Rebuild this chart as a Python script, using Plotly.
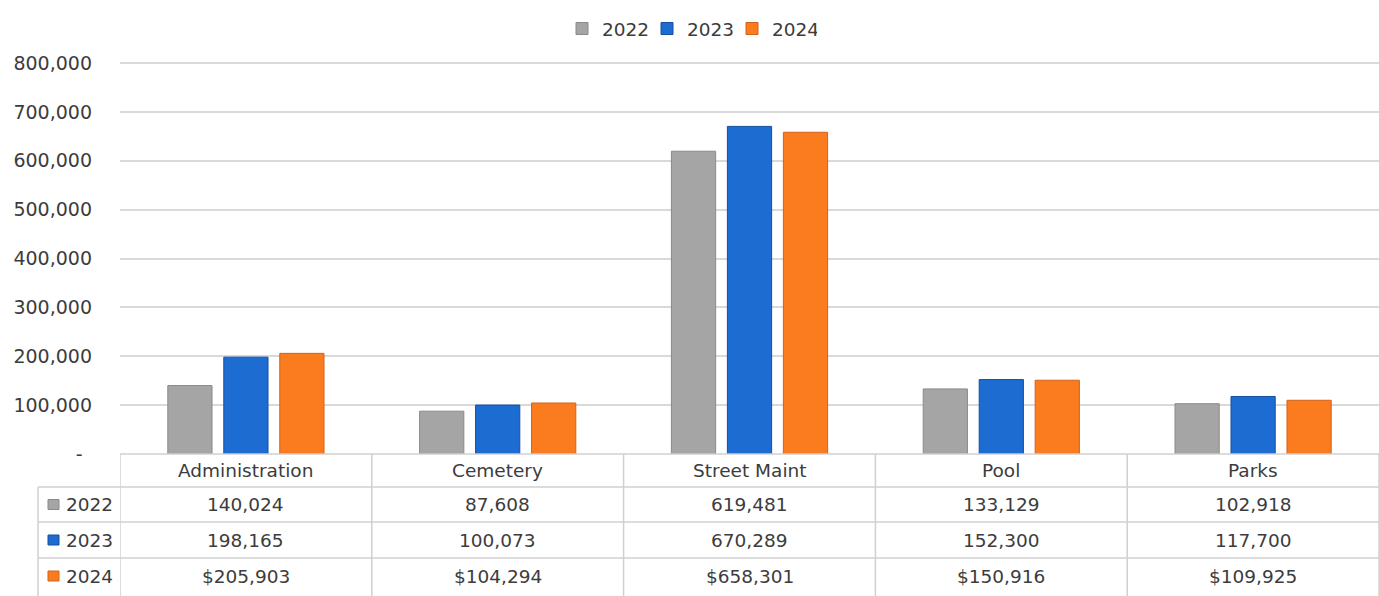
import plotly.graph_objects as go

categories = ["Administration", "Cemetery", "Street Maint", "Pool", "Parks"]
years = ["2022", "2023", "2024"]
v2022 = [140024, 87608, 619481, 133129, 102918]
v2023 = [198165, 100073, 670289, 152300, 117700]
v2024 = [205903, 104294, 658301, 150916, 109925]
row_labels = {
    "2022": ["140,024", "87,608", "619,481", "133,129", "102,918"],
    "2023": ["198,165", "100,073", "670,289", "152,300", "117,700"],
    "2024": ["$205,903", "$104,294", "$658,301", "$150,916", "$109,925"],
}
y_ticks = [0, 100000, 200000, 300000, 400000, 500000, 600000, 700000, 800000]
y_tick_text = ["-\u2002", "100,000", "200,000", "300,000", "400,000", "500,000",
               "600,000", "700,000", "800,000"]

colors = {"2022": "#a5a5a5", "2023": "#1c6cd2", "2024": "#fb7b1f"}
outlines = {"2022": "#8a8a8a", "2023": "#174f9e", "2024": "#d2621a"}
values = {"2022": v2022, "2023": v2023, "2024": v2024}

W, H = 1379, 596
ML, MR, MT, MB = 120, 0, 61, 142
plot_h = H - MT - MB
FONT = "DejaVu Sans"
TXT = "#3c3c3c"
LINE = "#d0d0d0"
FS = 18.5
# leave 2px above the top gridline so it is not clipped at the plot edge
y_top = 800000 * plot_h / (plot_h - 2)


def py(pix):
    """pixel y (from top) -> paper y"""
    return (H - MB - pix) / plot_h


def px(pix):
    return (pix - ML) / (W - ML - MR)


fig = go.Figure()
for yr in years:
    fig.add_trace(go.Bar(
        x=categories, y=values[yr], name=yr,
        marker=dict(color=colors[yr], line=dict(color=outlines[yr], width=1)),
    ))

shapes = []
annotations = []
n = len(categories)
row_tops = [454, 487, 522, 558, 594]

# table horizontal lines
shapes.append(dict(type="line", xref="paper", yref="paper", x0=0, x1=1,
                   y0=py(454), y1=py(454), line=dict(color=LINE, width=1.5)))
for yy in row_tops[1:4]:
    shapes.append(dict(type="line", xref="paper", yref="paper", x0=px(38), x1=1,
                       y0=py(yy), y1=py(yy), line=dict(color=LINE, width=1.5)))
# vertical lines at category boundaries
for i in range(n + 1):
    shapes.append(dict(type="line", xref="x", yref="paper", x0=i - 0.5, x1=i - 0.5,
                       y0=py(454), y1=py(596), line=dict(color=LINE, width=1.5)))
shapes.append(dict(type="line", xref="paper", yref="paper", x0=px(38), x1=px(38),
                   y0=py(487), y1=py(596), line=dict(color=LINE, width=1.5)))

# header
for c in categories:
    annotations.append(dict(x=c, y=py(471), xref="x", yref="paper", text=c,
                            yanchor="middle", showarrow=False,
                            font=dict(size=FS, color=TXT, family=FONT)))
# rows
for r, yr in enumerate(years):
    cy = (row_tops[r + 1] + row_tops[r + 2]) / 2
    for c, t in zip(categories, row_labels[yr]):
        annotations.append(dict(x=c, y=py(cy), xref="x", yref="paper", text=t,
                                yanchor="middle", showarrow=False,
                                font=dict(size=FS, color=TXT, family=FONT)))
    annotations.append(dict(x=px(64), y=py(cy), xref="paper", yref="paper", text=yr,
                            xanchor="left", yanchor="middle", showarrow=False,
                            font=dict(size=FS, color=TXT, family=FONT)))
    shapes.append(dict(type="rect", xref="paper", yref="paper",
                       x0=px(48), x1=px(59), y0=py(cy - 5), y1=py(cy + 5),
                       fillcolor=colors[yr], line=dict(color=outlines[yr], width=1)))

fig.update_layout(
    width=W, height=H,
    margin=dict(l=ML, r=MR, t=MT, b=MB),
    paper_bgcolor="white", plot_bgcolor="white",
    barmode="group", bargap=0.333, bargroupgap=0.21,
    font=dict(family=FONT, color=TXT, size=FS),
    legend=dict(orientation="h", xref="container", x=0.5, xanchor="center",
                yref="container", y=1 - 29 / H, yanchor="middle",
                font=dict(size=FS, color=TXT, family=FONT), itemwidth=30,
                traceorder="normal", entrywidth=40, entrywidthmode="pixels"),
    xaxis=dict(showticklabels=False, showline=False, showgrid=False, zeroline=False,
               ticks="", range=[-0.5, n - 0.5]),
    yaxis=dict(range=[0, y_top], tickvals=y_ticks, ticktext=y_tick_text,
               showgrid=True, gridcolor="#d9d9d9", gridwidth=1.5, zeroline=False,
               showline=False, ticks="", ticklabelstandoff=27,
               tickfont=dict(size=19, color=TXT, family=FONT)),
    shapes=shapes, annotations=annotations,
)
fig.write_html("out.html")
